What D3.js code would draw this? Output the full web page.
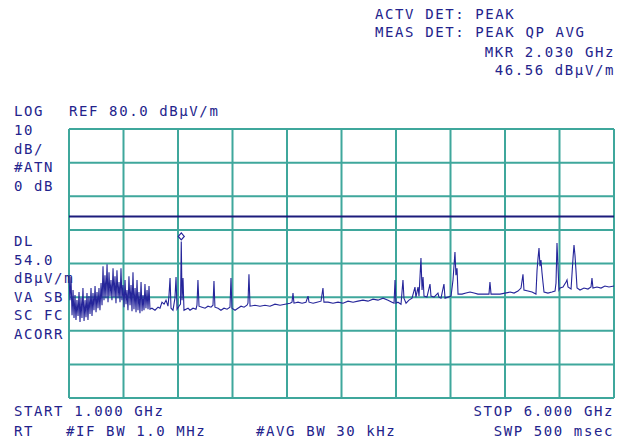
<!DOCTYPE html>
<html>
<head>
<meta charset="utf-8">
<script src="https://cdn.jsdelivr.net/npm/d3@7"></script>
<style>
    body { margin: 0; background: #fff; }
    text { font-family: "DejaVu Sans Mono", monospace; font-size: 14px; letter-spacing: 1.6px; fill: #23238c; }
</style>
</head>
<body>
<div class="graphContainer"></div>
<script>
// sweep, GHz / dBuV/m
var freqGHz = [
    1.000, 1.009, 1.018, 1.028, 1.037, 1.046, 1.055, 1.064, 1.073, 1.083,
    1.092, 1.101, 1.110, 1.119, 1.128, 1.138, 1.147, 1.156, 1.165, 1.174,
    1.183, 1.193, 1.202, 1.211, 1.220, 1.229, 1.239, 1.248, 1.257, 1.266,
    1.275, 1.284, 1.294, 1.303, 1.312, 1.321, 1.330, 1.339, 1.349, 1.358,
    1.367, 1.376, 1.385, 1.394, 1.404, 1.413, 1.422, 1.431, 1.440, 1.450,
    1.459, 1.468, 1.477, 1.486, 1.495, 1.505, 1.514, 1.523, 1.532, 1.541,
    1.550, 1.560, 1.569, 1.578, 1.587, 1.596, 1.606, 1.615, 1.624, 1.633,
    1.642, 1.651, 1.661, 1.670, 1.679, 1.688, 1.697, 1.706, 1.716, 1.725,
    1.734, 1.743, 1.761, 1.789, 1.817, 1.835, 1.853, 1.872, 1.890, 1.908,
    1.917, 1.927, 1.936, 1.954, 1.972, 1.982, 1.991, 2.009, 2.023, 2.030,
    2.037, 2.046, 2.055, 2.073, 2.092, 2.110, 2.138, 2.165, 2.174, 2.183,
    2.193, 2.220, 2.248, 2.275, 2.303, 2.321, 2.330, 2.339, 2.367, 2.394,
    2.422, 2.450, 2.477, 2.486, 2.495, 2.523, 2.550, 2.578, 2.606, 2.633,
    2.642, 2.651, 2.661, 2.706, 2.752, 2.798, 2.844, 2.890, 2.936, 2.982,
    3.028, 3.046, 3.055, 3.064, 3.101, 3.138, 3.174, 3.193, 3.202, 3.239,
    3.275, 3.312, 3.330, 3.339, 3.376, 3.422, 3.468, 3.514, 3.560, 3.606,
    3.651, 3.697, 3.743, 3.789, 3.835, 3.881, 3.927, 3.963, 3.982, 3.991,
    4.000, 4.018, 4.046, 4.064, 4.073, 4.092, 4.119, 4.147, 4.174, 4.183,
    4.202, 4.211, 4.229, 4.239, 4.248, 4.257, 4.284, 4.312, 4.321, 4.349,
    4.385, 4.394, 4.413, 4.440, 4.450, 4.477, 4.505, 4.523, 4.541, 4.550,
    4.560, 4.569, 4.606, 4.642, 4.679, 4.716, 4.752, 4.789, 4.826, 4.853,
    4.862, 4.872, 4.908, 4.954, 5.000, 5.046, 5.083, 5.119, 5.147, 5.165,
    5.174, 5.211, 5.248, 5.284, 5.294, 5.303, 5.312, 5.321, 5.330, 5.339,
    5.349, 5.358, 5.394, 5.431, 5.459, 5.468, 5.477, 5.486, 5.495, 5.505,
    5.532, 5.560, 5.569, 5.578, 5.606, 5.624, 5.633, 5.642, 5.651, 5.661,
    5.688, 5.725, 5.761, 5.789, 5.798, 5.807, 5.844, 5.881, 5.917, 5.954,
    6.000
];
var levelDb = [
    36.2, 29.1, 36.0, 24.6, 32.1, 23.8, 30.6, 23.2, 29.1, 24.4,
    31.5, 22.6, 29.7, 23.8, 32.7, 22.9, 29.1, 24.0, 31.2, 23.2,
    30.3, 25.0, 32.7, 24.4, 31.2, 26.1, 33.3, 25.5, 31.5, 26.7,
    32.7, 26.1, 34.2, 27.6, 39.2, 29.1, 36.5, 29.7, 39.8, 28.5,
    37.4, 30.3, 35.1, 29.1, 38.6, 30.0, 36.2, 28.2, 38.0, 29.7,
    34.5, 28.5, 38.6, 29.1, 33.6, 27.0, 35.1, 27.9, 32.1, 26.1,
    36.2, 27.6, 33.6, 25.8, 37.4, 26.4, 32.7, 25.5, 35.1, 26.1,
    31.5, 25.2, 34.5, 25.8, 30.6, 26.1, 33.9, 26.7, 32.1, 26.4,
    33.3, 26.4, 26.7, 26.1, 27.0, 26.7, 28.5, 27.9, 29.1, 27.3,
    30.3, 35.7, 26.7, 26.1, 29.7, 36.0, 26.4, 27.3, 27.9, 46.56,
    29.1, 35.7, 26.1, 26.4, 26.7, 26.1, 26.7, 26.4, 27.6, 35.1,
    27.3, 27.0, 26.7, 27.3, 27.0, 27.6, 34.8, 27.0, 26.7, 26.1,
    26.7, 26.4, 27.0, 35.7, 26.7, 26.1, 26.7, 27.3, 27.0, 27.6,
    28.2, 36.8, 27.3, 27.6, 27.3, 27.6, 27.3, 27.9, 27.6, 27.9,
    28.2, 28.5, 31.2, 28.2, 28.5, 28.2, 28.5, 30.3, 28.5, 28.2,
    28.5, 28.8, 32.7, 28.5, 28.5, 28.2, 28.5, 28.2, 28.8, 28.5,
    28.8, 29.1, 28.8, 29.4, 29.1, 29.7, 29.1, 28.5, 28.2, 35.1,
    28.2, 28.5, 27.9, 35.1, 29.7, 28.2, 29.1, 29.7, 33.0, 30.0,
    33.0, 30.3, 41.6, 32.1, 36.0, 30.3, 30.0, 33.9, 30.3, 30.0,
    31.2, 30.0, 29.7, 33.9, 29.7, 30.0, 30.3, 35.1, 43.4, 36.5,
    38.6, 30.9, 30.9, 31.2, 31.5, 31.2, 30.9, 30.9, 30.9, 30.9,
    34.5, 30.9, 30.9, 30.9, 31.2, 31.5, 31.2, 31.8, 32.7, 36.8,
    32.1, 31.8, 31.5, 30.9, 38.0, 41.6, 44.6, 39.2, 41.0, 37.4,
    34.2, 31.5, 31.2, 31.5, 31.8, 34.2, 46.1, 39.2, 32.1, 32.7,
    33.0, 34.5, 35.1, 33.0, 32.4, 41.6, 45.5, 42.5, 38.0, 32.7,
    32.1, 32.7, 32.4, 33.0, 35.7, 32.7, 33.0, 32.7, 33.3, 33.0,
    33.3
];

var freqTicks = [1.0, 1.5, 2.0, 2.5, 3.0, 3.5, 4.0, 4.5, 5.0, 5.5, 6.0];
var levelTicks = [0, 10, 20, 30, 40, 50, 60, 70, 80];
var displayLine = 54.0;
var markerFreq = 2.030;
var markerLevel = 46.56;

var topLines = ["ACTV DET: PEAK", "MEAS DET: PEAK QP AVG"];
var markerLines = ["MKR 2.030 GHz", "46.56 dB\u03bcV/m"];
var leftUpper = ["LOG", "10", "dB/", "#ATN", "0 dB"];
var leftLower = ["DL", "54.0", "dB\u03bcV/m", "VA SB", "SC FC", "ACORR"];

var w = 628,
    h = 443;

var x = d3.scaleLinear().domain([1, 6]).range([69, 614]);
var y = d3.scaleLinear().domain([0, 80]).range([398, 129]);

var svg = d3.select(".graphContainer")
    .append("svg")
    .attr("width", w)
    .attr("height", h)
    .style("display", "block");

svg.append("rect").attr("width", w).attr("height", h).attr("fill", "#fff");

// graticule
var grid = svg.append("g").attr("stroke", "#3fa79c").attr("stroke-width", 2);

grid.selectAll("line.v")
    .data(freqTicks)
    .enter()
    .append("line")
    .attr("class", "v")
    .attr("x1", function (d) { return x(d); })
    .attr("x2", function (d) { return x(d); })
    .attr("y1", y(80))
    .attr("y2", y(0));

grid.selectAll("line.h")
    .data(levelTicks)
    .enter()
    .append("line")
    .attr("class", "h")
    .attr("x1", x(1))
    .attr("x2", x(6))
    .attr("y1", function (d) { return y(d); })
    .attr("y2", function (d) { return y(d); });

// display line
svg.append("line")
    .attr("x1", x(1))
    .attr("x2", x(6))
    .attr("y1", y(displayLine))
    .attr("y2", y(displayLine))
    .attr("stroke", "#1c1c7c")
    .attr("stroke-width", 2);

var trace = d3.line()
    .x(function (d, i) { return x(freqGHz[i]); })
    .y(function (d) { return y(d); });

svg.append("path")
    .datum(levelDb)
    .attr("d", trace)
    .attr("fill", "none")
    .attr("stroke", "#25259a")
    .attr("stroke-width", 1.1);

// marker symbol sits just above the trace point
var mx = x(markerFreq),
    my = y(markerLevel) - 5;
svg.append("path")
    .attr("d", "M" + mx + "," + (my - 3.5) + "L" + (mx + 3) + "," + my + "L" + mx + "," + (my + 3.5) + "L" + (mx - 3) + "," + my + "Z")
    .attr("fill", "#fff")
    .attr("stroke", "#25259a")
    .attr("stroke-width", 1.2);

// annotation text
svg.selectAll("text.top")
    .data(topLines)
    .enter()
    .append("text")
    .attr("class", "top")
    .attr("x", 375)
    .attr("y", function (d, i) { return 19 + i * 18; })
    .text(function (d) { return d; });

svg.selectAll("text.mkr")
    .data(markerLines)
    .enter()
    .append("text")
    .attr("class", "mkr")
    .attr("x", 615)
    .attr("text-anchor", "end")
    .attr("y", function (d, i) { return 57 + i * 18; })
    .text(function (d) { return d; });

svg.selectAll("text.lu")
    .data(leftUpper)
    .enter()
    .append("text")
    .attr("class", "lu")
    .attr("x", 14)
    .attr("y", function (d, i) { return 116 + i * 18.8; })
    .text(function (d) { return d; });

svg.append("text").attr("x", 69).attr("y", 116).text("REF 80.0 dB\u03bcV/m");

svg.selectAll("text.ll")
    .data(leftLower)
    .enter()
    .append("text")
    .attr("class", "ll")
    .attr("x", 14)
    .attr("y", function (d, i) { return 246 + i * 18.6; })
    .text(function (d) { return d; });

svg.append("text").attr("x", 14).attr("y", 416).text("START 1.000 GHz");
svg.append("text").attr("x", 614).attr("y", 416).attr("text-anchor", "end").text("STOP 6.000 GHz");
svg.append("text").attr("x", 14).attr("y", 436).text("RT");
svg.append("text").attr("x", 66).attr("y", 436).text("#IF BW 1.0 MHz");
svg.append("text").attr("x", 256).attr("y", 436).text("#AVG BW 30 kHz");
svg.append("text").attr("x", 614).attr("y", 436).attr("text-anchor", "end").text("SWP 500 msec");
</script>
</body>
</html>
